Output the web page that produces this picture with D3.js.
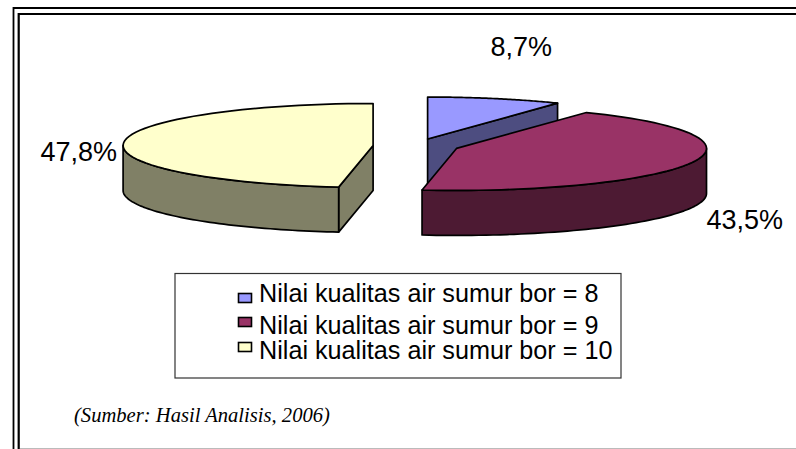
<!DOCTYPE html>
<html><head><meta charset="utf-8">
<script src="https://cdn.jsdelivr.net/npm/d3@7"></script>
<style>html,body{margin:0;padding:0;background:#fff}svg{display:block}</style>
</head><body><svg id="c" width="796" height="449"></svg>
<script>
const categories = ["Nilai kualitas air sumur bor = 8","Nilai kualitas air sumur bor = 9","Nilai kualitas air sumur bor = 10"];
const values = [8.7,43.5,47.8];
const valueLabels = ["8,7%","43,5%","47,8%"];
const topColors = ["#9999FF","#993366","#FFFFCC"];
const sideColors = ["#4D4D80","#4D1A33","#808066"];
const source = "(Sumber: Hasil Analisis, 2006)";

const svg = d3.select("#c");
const W=796,H=449;
// frame
const fr = svg.append("g").attr("fill","none").attr("stroke","#000");
fr.append("path").attr("d",`M13.5,${H}V8H${W}`).attr("stroke-width",1.8);
fr.append("path").attr("d",`M18.7,${H}V14H${W}`).attr("stroke-width",2.2);
fr.append("line").attr("x1",20).attr("x2",W).attr("y1",448.5).attr("y2",448.5).attr("stroke","#bbb").attr("stroke-width",1);

// pie geometry
const cx=416,cy=146,rx=250,ry=42,depth=45,explode=0.172;
const sx=d3.scaleLinear().domain([-1,1]).range([cx-rx,cx+rx]);
const sy=d3.scaleLinear().domain([-1,1]).range([cy-ry,cy+ry]);
const arcs=d3.pie().sort(null).value(d=>d)(values);
const line=d3.line();
arcs.forEach((a,i)=>{
  const mid=(a.startAngle+a.endAngle)/2;
  const ox=explode*Math.sin(mid), oy=-explode*Math.cos(mid);
  const P=(t,r=1,dz=0)=>[sx(ox+r*Math.sin(t)),sy(oy-r*Math.cos(t))+dz];
  const rim=(t0,t1,dz=0)=>d3.range(0,61).map(k=>P(t0+(t1-t0)*k/60,1,dz));
  const g=svg.append("g").attr("stroke","#000").attr("stroke-width",1.7).attr("stroke-linejoin","round");
  const faces=[];
  if(Math.sin(a.endAngle)>0.01) faces.push(a.endAngle);
  if(Math.sin(a.startAngle)<-0.01) faces.push(a.startAngle);
  faces.forEach(t=>{
    g.append("path").attr("fill",sideColors[i])
     .attr("d",line([P(t,0),P(t,1),P(t,1,depth),P(t,0,depth)])+"Z");
  });
  const w0=Math.max(a.startAngle,Math.PI/2), w1=Math.min(a.endAngle,Math.PI*1.5);
  if(w1>w0){
    g.append("path").attr("fill",sideColors[i])
     .attr("d",line(rim(w0,w1).concat(rim(w1,w0,depth)))+"Z");
  }
  g.append("path").attr("fill",topColors[i])
   .attr("d",line([P(a.startAngle,0)].concat(rim(a.startAngle,a.endAngle)))+"Z");
});

// value labels
const labelPos=[[490.5,56],[706.5,229],[40.5,161]];
svg.append("g").selectAll("text").data(valueLabels).join("text")
  .attr("x",(d,i)=>labelPos[i][0]).attr("y",(d,i)=>labelPos[i][1])
  .attr("font-family","'Liberation Sans',Arial,sans-serif").attr("font-size",27).attr("fill","#000")
  .text(d=>d);

// legend
svg.append("rect").attr("x",175).attr("y",273.5).attr("width",446).attr("height",104.5)
  .attr("fill","#fff").attr("stroke","#333").attr("stroke-width",1.2);
const swY=[293,317,342], txY=[302,334,359];
const lg=svg.append("g").selectAll("g").data(categories).join("g");
lg.append("rect").attr("x",238.5).attr("y",(d,i)=>swY[i]+.5).attr("width",13).attr("height",9)
  .attr("fill",(d,i)=>topColors[i]).attr("stroke","#000").attr("stroke-width",1.6);
lg.append("text").attr("x",259).attr("y",(d,i)=>txY[i])
  .attr("font-family","'Liberation Sans',Arial,sans-serif").attr("font-size",25.2).attr("fill","#000").text(d=>d);

svg.append("text").attr("x",74).attr("y",422)
  .attr("font-family","'Liberation Serif','Times New Roman',serif").attr("font-style","italic")
  .attr("font-size",20.6).attr("fill","#000").text(source);
</script></body></html>
